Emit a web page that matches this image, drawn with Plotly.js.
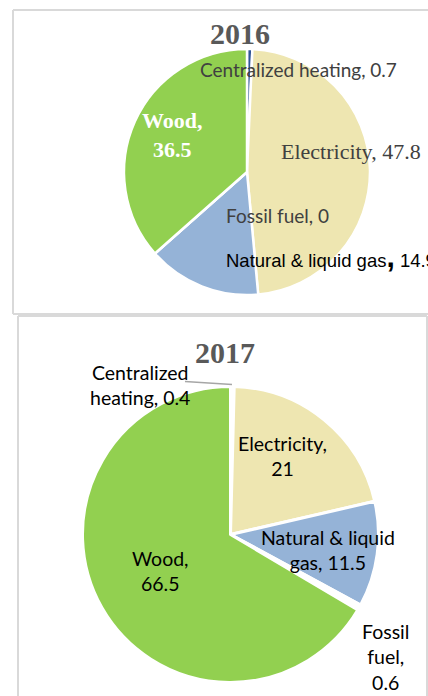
<!DOCTYPE html>
<html>
<head>
<meta charset="utf-8">
<script src="https://cdn.plot.ly/plotly-3.0.1.min.js"></script>
<style>
html,body{margin:0;padding:0;background:#fff;overflow:hidden;}
#chart{width:428px;height:696px;}
</style>
</head>
<body>
<div id="chart"></div>
<script>
// ---- data ----
const categories = ["Centralized heating", "Electricity", "Natural & liquid gas", "Fossil fuel", "Wood"];
const values2016 = [0.7, 47.8, 14.9, 0, 36.5];
const values2017 = [0.4, 21, 11.5, 0.6, 66.5];
const years = ["2016", "2017"];

// ---- styling ----
const W = 428, H = 696;
const px = x => x / W;
const py = y => 1 - y / H;

const colors2016 = ["#2F5597", "#EEE6B1", "#95B3D7", "#FFFFFF", "#92D050"];
const colors2017 = ["#FFFFFF", "#EEE6B1", "#95B3D7", "#FFFFFF", "#92D050"];

function domainFor(cx, cy, r) {
  return { x: [px(cx - r), px(cx + r)], y: [py(cy + r), py(cy - r)] };
}

const traces = [
  {
    type: "pie", labels: categories, values: values2016, sort: false,
    direction: "clockwise", rotation: 0, textinfo: "none", hoverinfo: "label+value",
    marker: { colors: colors2016, line: { color: "#FFFFFF", width: 2.5 } },
    domain: domainFor(247, 172, 123), showlegend: false
  },
  {
    type: "pie", labels: categories, values: values2017, sort: false,
    direction: "clockwise", rotation: 0, textinfo: "none", hoverinfo: "label+value",
    marker: { colors: colors2017, line: { color: "#FFFFFF", width: 3 } },
    domain: domainFor(230.5, 534.5, 148), showlegend: false
  }
];

const serif = "Liberation Serif, DejaVu Serif, serif";
const sans = "Lato, Open Sans, sans-serif";
const arial = "Liberation Sans, Arial, sans-serif";

function ann(text, x, y, font, extra) {
  return Object.assign({
    text: text, x: px(x), y: py(y), xref: "paper", yref: "paper",
    xanchor: "center", yanchor: "middle", showarrow: false, font: font
  }, extra || {});
}
const lab = (i, vals, sep) => categories[i] + "," + (sep || " ") + vals[i];

const annotations = [
  // 2016
  ann(years[0], 240, 33, { family: serif, size: 30, color: "#595959", weight: 700 }),
  ann(lab(0, values2016), 298, 70, { family: sans, size: 19, color: "#404040" }),
  ann(lab(1, values2016), 351, 151, { family: serif, size: 22, color: "#404040" }),
  ann("<b>" + categories[4] + ",<br>" + values2016[4] + "</b>", 172, 134.5, { family: serif, size: 22, color: "#FFFFFF" }),
  ann(lab(3, values2016), 277, 215, { family: sans, size: 19, color: "#404040" }),
  ann(categories[2] + "<span style='font-size:30px;font-weight:bold'>,</span> " + values2016[2], 224, 257,
      { family: arial, size: 18.5, color: "#000000" }, { xanchor: "left" }),
  // 2017
  ann(years[1], 224.5, 352, { family: serif, size: 30, color: "#595959", weight: 700 }),
  ann("Centralized<br>heating, " + values2017[0], 140, 384.5, { family: sans, size: 19.5, color: "#000000" }),
  ann(categories[1] + ",<br>" + values2017[1], 282, 455.5, { family: sans, size: 19.5, color: "#000000" }),
  ann("Natural &amp; liquid<br>gas, " + values2017[2], 328, 549.5, { family: sans, size: 19.5, color: "#000000" }),
  ann(categories[4] + ",<br>" + values2017[4], 160, 570.5, { family: sans, size: 19.5, color: "#000000" }),
  ann("Fossil<br>fuel,<br>" + values2017[3], 385, 657, { family: sans, size: 19.5, color: "#000000" })
];

const boxLine = { color: "#D9D9D9", width: 2 };
const shapes = [
  // 2016 box (left, top, bottom)
  { type: "line", xref: "paper", yref: "paper", x0: px(13), x1: px(13), y0: py(10), y1: py(314), line: boxLine },
  { type: "line", xref: "paper", yref: "paper", x0: px(13), x1: px(440), y0: py(10), y1: py(10), line: boxLine },
  { type: "line", xref: "paper", yref: "paper", x0: px(13), x1: px(440), y0: py(314), y1: py(314), line: boxLine },
  // 2017 box
  { type: "line", xref: "paper", yref: "paper", x0: px(18), x1: px(18), y0: py(316), y1: py(700), line: boxLine },
  { type: "line", xref: "paper", yref: "paper", x0: px(18), x1: px(427), y0: py(316), y1: py(316), line: boxLine },
  { type: "line", xref: "paper", yref: "paper", x0: px(427), x1: px(427), y0: py(316), y1: py(700), line: boxLine },
  // leader line for 2017 centralized heating
  { type: "line", xref: "paper", yref: "paper", x0: px(185), x1: px(232), y0: py(381.5), y1: py(384.5), line: { color: "#A6A6A6", width: 1.5 } }
];

const layout = {
  width: W, height: H,
  margin: { l: 0, r: 0, t: 0, b: 0 },
  paper_bgcolor: "#FFFFFF",
  showlegend: false,
  annotations: annotations,
  shapes: shapes
};

Plotly.newPlot("chart", traces, layout, { displayModeBar: false, staticPlot: true });
</script>
</body>
</html>
